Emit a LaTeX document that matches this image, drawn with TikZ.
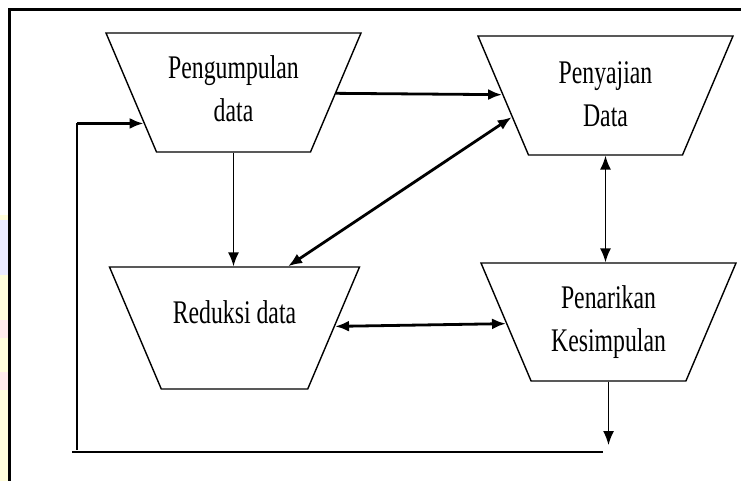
\documentclass[tikz,border=0pt]{standalone}
\usepackage{fontspec}
\setmainfont{Liberation Serif}[FakeStretch=0.72]
\usetikzlibrary{shapes.geometric,arrows.meta,calc}

\begin{document}
\begin{tikzpicture}[x=1pt,y=-1pt,>={Latex[length=14pt,width=11pt]},
  tahap/.style={draw,trapezium,shape border rotate=180,trapezium angle=67,
    trapezium stretches body,minimum width=255pt,
    line width=1.4pt,font=\fontsize{33}{43}\selectfont,align=center,inner sep=0pt},
  tebal/.style={line width=2.8pt},
  tipis/.style={line width=1.5pt}]
\useasboundingbox (0,0) rectangle (741,481);
% watermark strip and frame
\fill[yellow!14] (0,215) rectangle (8,481);
\fill[blue!8] (0,220) rectangle (8,275);
\fill[red!8] (0,320) rectangle (8,338);
\fill[red!8] (0,372) rectangle (8,390);
\draw[line width=3pt] (9.5,481) -- (9.5,10) -- (741,10);
% stages
\node[tahap,text height=89pt,text depth=30pt] (pg) at (233.5,92.5) {Pengumpulan\\data};
\node[tahap,text height=91pt,text depth=28pt] (ps) at (605.5,95.5) {Penyajian\\Data};
\node[tahap,minimum width=250pt,text height=56pt,text depth=66pt] (rd) at (234.5,328) {Reduksi data};
\node[tahap,text height=88pt,text depth=30pt] (pk) at (608.5,322) {Penarikan\\Kesimpulan};
% connectors
\draw[tebal,->] (pg) -- (ps);
\draw[tipis,->] (pg.270) -- (pg.270 |- rd.90);
\draw[tebal,<->] (ps.193) -- (rd.49);
\draw[tipis,<->] (ps.270) -- (ps.270 |- pk.90);
\draw[tebal,<->] (rd) -- (pk);
\coordinate (ujung) at (605,445);
\coordinate (kiri) at (72,452);
\coordinate (kanan) at (603,452);
\coordinate (balik) at (77,450);
\draw[tipis,->] (pk.270) -- (pk.270 |- ujung);
\draw[tebal] (kiri) -- (kanan);
\draw[tipis] (balik) -- (balik |- pg.199);
\draw[tebal,->] (balik |- pg.199) -- (pg.199);
\end{tikzpicture}
\end{document}
